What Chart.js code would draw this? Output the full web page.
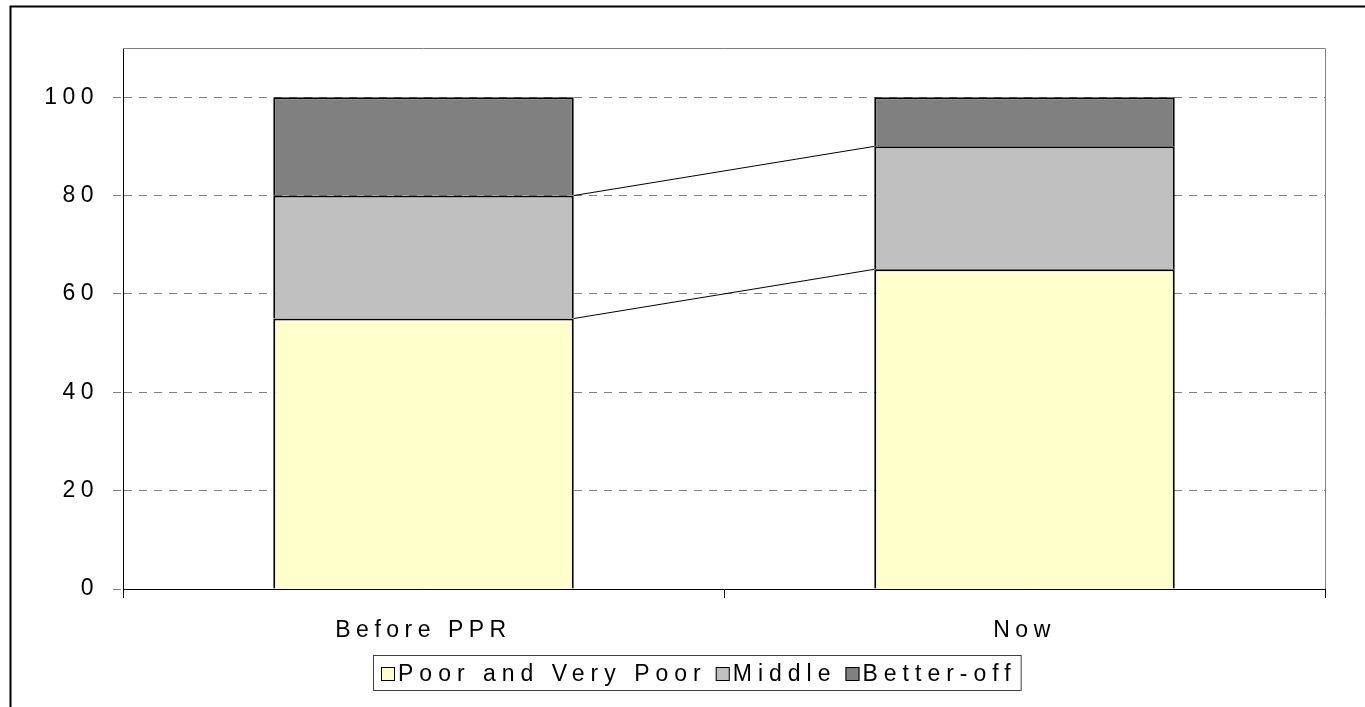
<!DOCTYPE html>
<html>
<head>
<meta charset="utf-8">
<script src="https://cdn.jsdelivr.net/npm/chart.js@4.4.1/dist/chart.umd.min.js"></script>
<style>
  html, body { margin: 0; padding: 0; background: #fff; }
  #wrap { width: 1365px; height: 707px; }
</style>
</head>
<body>
<div id="wrap"><canvas id="wealthChart" width="1365" height="707"></canvas></div>
<script>
// wealth groups, % of households
const categories = ['Before PPR', 'Now'];
const poorShare = [55, 65];
const middleShare = [25, 25];
const betterOffShare = [20, 10];
const groupNames = ['Poor and Very Poor', 'Middle', 'Better-off'];
const groupColors = ['#FFFFCC', '#C0C0C0', '#808080'];
const yMax = 110;
const yLastTick = 100;

const FONT = '"Liberation Sans", Arial, sans-serif';
const SPACING = '5.5px';

// wide letter spacing for every text the chart draws
const spacedText = {
    id: 'spacedText',
    beforeDraw(chart) {
        chart.ctx.letterSpacing = SPACING;
    }
};

// outer frame and top/right edges of the plot area
const frame = {
    id: 'frame',
    beforeDatasetsDraw(chart) {
        const { ctx, chartArea: a } = chart;
        ctx.save();
        ctx.strokeStyle = '#808080';
        ctx.lineWidth = 1;
        ctx.beginPath();
        ctx.moveTo(a.left, a.top + 0.5);
        ctx.lineTo(a.right + 0.5, a.top + 0.5);
        ctx.lineTo(a.right + 0.5, a.bottom);
        ctx.stroke();
        ctx.restore();
    },
    afterDraw(chart) {
        const ctx = chart.ctx;
        ctx.save();
        ctx.strokeStyle = '#000';
        ctx.lineWidth = 2;
        ctx.strokeRect(10.5, 6.5, 3000, 3000);
        ctx.restore();
    }
};

// series lines joining the stacked segments of the two bars
const seriesLines = {
    id: 'seriesLines',
    afterDatasetsDraw(chart) {
        const ctx = chart.ctx;
        const n = chart.data.datasets.length;
        ctx.save();
        ctx.strokeStyle = '#000';
        ctx.lineWidth = 1;
        for (let i = 0; i < n - 1; i++) {
            const bars = chart.getDatasetMeta(i).data;
            for (let j = 0; j < bars.length - 1; j++) {
                const a = bars[j], b = bars[j + 1];
                ctx.beginPath();
                ctx.moveTo(a.x + a.width / 2, a.y);
                ctx.lineTo(b.x - b.width / 2, b.y);
                ctx.stroke();
            }
        }
        ctx.restore();
    }
};

// boxed legend underneath the axis
const boxLegend = {
    id: 'boxLegend',
    afterDraw(chart) {
        const ctx = chart.ctx;
        const sets = chart.data.datasets;
        const boxLeft = 373, boxTop = 655, boxBottom = 690;
        const base = 681, sw = 14;
        ctx.save();
        ctx.font = '23px ' + FONT;
        ctx.letterSpacing = '6px';
        ctx.textBaseline = 'alphabetic';
        ctx.textAlign = 'left';
        let x = 381;
        sets.forEach((ds, i) => {
            ctx.fillStyle = ds.backgroundColor;
            ctx.fillRect(x, base - sw, sw, sw);
            ctx.strokeStyle = '#000';
            ctx.lineWidth = 1;
            ctx.strokeRect(x + 0.5, base - sw + 0.5, sw - 1, sw - 1);
            x += sw + 3;
            ctx.fillStyle = '#000';
            ctx.fillText(ds.label, x, base);
            x += ctx.measureText(ds.label).width + (i < sets.length - 1 ? 9 : 4);
        });
        ctx.strokeStyle = '#404040';
        ctx.lineWidth = 1;
        ctx.strokeRect(boxLeft + 0.5, boxTop + 0.5, x - boxLeft, boxBottom - boxTop);
        ctx.restore();
    }
};

const ctx = document.getElementById('wealthChart').getContext('2d');
const wealthChart = new Chart(ctx, {
    type: 'bar',
    data: {
        labels: categories,
        datasets: [poorShare, middleShare, betterOffShare].map((values, i) => ({
            label: groupNames[i],
            data: values,
            backgroundColor: groupColors[i],
            borderColor: '#000',
            borderWidth: 2,
            borderSkipped: 'start',
            barPercentage: 0.5,
            categoryPercentage: 1
        }))
    },
    options: {
        responsive: false,
        animation: false,
        layout: { padding: { left: 0, top: 48, right: 40, bottom: 0 } },
        plugins: {
            legend: { display: false },
            tooltip: { enabled: false }
        },
        scales: {
            x: {
                stacked: true,
                grid: {
                    offset: true,
                    drawOnChartArea: false,
                    drawTicks: true,
                    tickLength: 9,
                    tickColor: '#000'
                },
                border: { color: '#000', width: 1 },
                ticks: {
                    color: '#000',
                    padding: 19,
                    font: { family: FONT, size: 23 },
                    maxRotation: 0
                },
                afterFit(scale) { scale.height = 118; }
            },
            y: {
                stacked: true,
                min: 0,
                max: yMax,
                ticks: {
                    stepSize: 20,
                    color: '#000',
                    padding: 14,
                    font: { family: FONT, size: 23 }
                },
                afterBuildTicks(scale) {
                    scale.ticks = scale.ticks.filter(t => t.value <= yLastTick);
                },
                grid: {
                    color: '#808080',
                    lineWidth: 1,
                    tickLength: 10,
                    tickColor: '#808080',
                    tickBorderDash: [8, 7]
                },
                // in v4 the grid line dash is read from border.dash
                border: { color: '#000', width: 1, dash: [8, 7] },
                afterFit(scale) { scale.width = 123; }
            }
        }
    },
    plugins: [spacedText, frame, seriesLines, boxLegend]
});
</script>
</body>
</html>
